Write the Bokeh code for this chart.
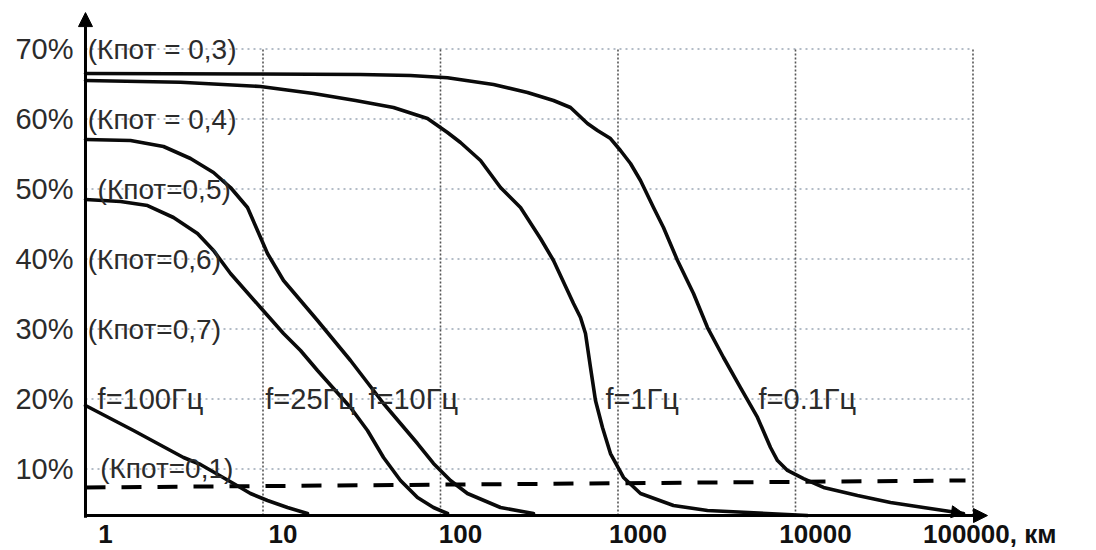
from bokeh.plotting import figure
from bokeh.models import Range1d, Arrow, NormalHead
from bokeh.core.properties import value
from bokeh.embed import file_html
from bokeh.resources import INLINE

# ---------------- data ----------------
# distance, km (log axis) / share, %
curve_01hz_x = [1, 9.68, 35.43, 67.76, 109.5, 198.9, 309.1, 433.1, 540, 673.3, 766.4, 907.2,
                1033, 1176, 1339, 1585, 1804, 2164, 2663, 3193, 3930, 4898, 6108, 7232, 7916,
                9015, 11100, 14380, 22360, 34300, 52620, 88400]
curve_01hz_y = [66.5, 66.43, 66.36, 66.21, 65.89, 64.93, 63.79, 62.64, 61.64, 59.36, 58.36, 57.21,
                55.5, 53.64, 51.21, 47.36, 44.5, 39.79, 35.07, 30.21, 25.93, 21.64, 17.36, 13.07,
                11.21, 9.79, 8.64, 7.36, 6.21, 5.21, 4.5, 3.64]

curve_1hz_x = [1, 3.43, 9.68, 19.25, 33.2, 54.35, 84.5, 109.5, 129.6, 168.1, 217.8, 282.3, 365.9,
               433.1, 561.5, 614.8, 656, 700, 746.8, 817.8, 907, 1074, 1339, 2054, 3193, 11690]
curve_1hz_y = [65.5, 65.26, 64.64, 63.64, 62.64, 61.64, 60.07, 58.07, 56.64, 54.07, 50.21, 47.36,
               42.93, 39.79, 33.64, 31.64, 29.36, 24.5, 19.79, 15.93, 12.21, 8.79, 6.5, 4.79,
               4.07, 3.36]

curve_10hz_x = [1, 1.793, 2.75, 3.904, 5.262, 6.56, 8.178, 9.311, 10.6, 13.05, 16.27, 20.28,
                31.12, 47.75, 74.2, 91.3, 113.8, 141.9, 217.8, 334.1]
curve_10hz_y = [57.07, 56.93, 56.07, 54.36, 52.36, 50.21, 47.36, 44.07, 40.79, 36.93, 34.07, 31.21,
                25.5, 19.36, 13.64, 10.79, 8.36, 6.5, 4.5, 3.64]

curve_25hz_x = [1, 1.575, 2.236, 3.131, 4.276, 5.262, 6.56, 9.68, 13.05, 16.27, 20.28, 31.12,
                38.79, 47.75, 59.51, 74.2, 91.3, 109.5]
curve_25hz_y = [48.5, 48.21, 47.64, 45.93, 43.64, 41.21, 37.93, 33.07, 29.36, 26.93, 24.07, 18.79,
                15.5, 11.64, 8.36, 5.93, 4.5, 3.64]

curve_100hz_x = [1, 1.864, 3.565, 4.445, 6.822, 8.502, 10.6, 13.74, 17.81]
curve_100hz_y = [19.07, 15.5, 11.64, 10.64, 7.93, 6.5, 5.5, 4.5, 3.64]

threshold_x = [1, 90740]
threshold_y = [7.36, 8.36]

y_ticks = [70, 60, 50, 40, 30, 20, 10]
y_tick_labels = ["70%", "60%", "50%", "40%", "30%", "20%", "10%"]
x_ticks = [1, 10, 100, 1000, 10000]
x_tick_labels = ["1", "10", "100", "1000", "10000"]
x_last_tick = [100000]
x_last_label = ["100000, км"]

k_labels = ["(Кпот = 0,3)", "(Кпот = 0,4)", "(Кпот=0,5)", "(Кпот=0,6)", "(Кпот=0,7)", "(Кпот=0,1)"]
k_label_x = [1.03, 1.03, 1.17, 1.03, 1.03, 1.21]
k_label_y = [70, 60, 50, 40, 30, 10]

f_labels = ["f=100Гц", "f=25Гц", "f=10Гц", "f=1Гц", "f=0.1Гц"]
f_label_x = [1.17, 10.3, 39.3, 850, 6190]
f_label_y = [20, 20, 20, 20, 20]

X_MIN, X_MAX = 1, 100000
AXIS_LEVEL = 3.35
Y_GRID_TOP = 70
Y_AXIS_TOP = 75.2
X_AXIS_END = 120700

# ---------------- figure ----------------
p = figure(width=1096, height=550, x_axis_type="log",
           x_axis_location=None, y_axis_location=None,
           x_range=Range1d(0.3320, 496420), y_range=Range1d(-1.643, 76.929),
           output_backend="svg", toolbar_location=None, min_border=0)
p.grid.visible = False
p.outline_line_color = None
p.background_fill_color = "white"
p.border_fill_color = "white"

# grid lines
p.segment(x0=[X_MIN] * len(y_ticks), y0=y_ticks, x1=[X_MAX] * len(y_ticks), y1=y_ticks,
          line_color="#b3bcc7", line_width=2, line_dash="2 4")
vgrid_x = x_ticks[1:] + x_last_tick
p.segment(x0=vgrid_x, y0=[AXIS_LEVEL] * len(vgrid_x), x1=vgrid_x, y1=[Y_GRID_TOP] * len(vgrid_x),
          line_color="#555555", line_width=1.6, line_dash="2 2")

# threshold
p.line(threshold_x, threshold_y, line_color="black", line_width=4, line_dash="20 16")

# curves
for cx, cy in [(curve_01hz_x, curve_01hz_y), (curve_1hz_x, curve_1hz_y),
               (curve_10hz_x, curve_10hz_y), (curve_25hz_x, curve_25hz_y),
               (curve_100hz_x, curve_100hz_y)]:
    p.line(cx, cy, line_color="#0a0a0a", line_width=3.6, line_join="round", line_cap="round")

p.add_layout(Arrow(end=NormalHead(size=12, fill_color="black", line_color="black"),
                   x_start=curve_01hz_x[-2], y_start=curve_01hz_y[-2],
                   x_end=curve_01hz_x[-1], y_end=curve_01hz_y[-1], line_width=0, line_alpha=0))

# axes
p.add_layout(Arrow(end=NormalHead(size=14, fill_color="black", line_color="black"),
                   x_start=X_MIN, y_start=AXIS_LEVEL - 0.3, x_end=X_MIN, y_end=Y_AXIS_TOP,
                   line_width=3, line_color="black"))
p.add_layout(Arrow(end=NormalHead(size=14, fill_color="black", line_color="black"),
                   x_start=X_MIN, y_start=AXIS_LEVEL, x_end=X_AXIS_END, y_end=AXIS_LEVEL,
                   line_width=3, line_color="black"))

font = value("Liberation Sans")
tcol = "#2b2b2b"

# y tick labels
p.text(x=[X_MIN] * len(y_ticks), y=y_ticks, text=y_tick_labels, text_font=font,
       text_font_size="29px", text_align="right", text_baseline="middle",
       text_color=tcol, x_offset=-12)

# x tick labels
p.text(x=x_ticks, y=[AXIS_LEVEL] * len(x_ticks), text=x_tick_labels, text_font=font,
       text_font_size="26px", text_font_style="bold", text_align="center",
       text_baseline="middle", text_color="#111111", x_offset=20, y_offset=18)
p.text(x=x_last_tick, y=[AXIS_LEVEL], text=x_last_label, text_font=font,
       text_font_size="26px", text_font_style="bold", text_align="left",
       text_baseline="middle", text_color="#111111", x_offset=-50, y_offset=18)

# annotations
p.text(x=k_label_x, y=k_label_y, text=k_labels, text_font=font, text_font_size="28px",
       text_align="left", text_baseline="middle", text_color=tcol)
p.text(x=f_label_x, y=f_label_y, text=f_labels, text_font=font, text_font_size="29px",
       text_align="left", text_baseline="middle", text_color=tcol)

open("out.html", "w").write(file_html(p, INLINE))
